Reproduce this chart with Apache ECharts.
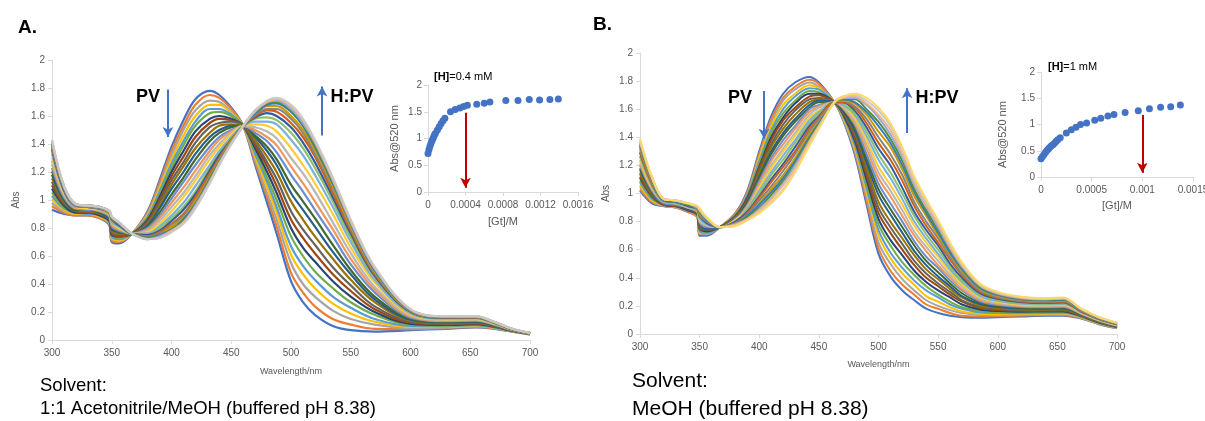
<!DOCTYPE html>
<html>
<head>
<meta charset="utf-8">
<script src="https://cdn.jsdelivr.net/npm/echarts/dist/echarts.min.js"></script>
<style>
  html, body { margin: 0; padding: 0; background: #ffffff; }
  #chart { width: 1205px; height: 421px; }
</style>
</head>
<body>
<div id="chart"></div>
<script>
// ---- Panel A: 1:1 acetonitrile/MeOH titration spectra ----
const wavelengthsA = [300, 310, 320, 330, 340, 348, 350, 356, 367, 380, 390, 400, 410, 420, 432, 440, 450, 460, 470, 480, 488, 500, 510, 520, 535, 550, 570, 600, 630, 655, 670, 685, 700];
// one row per wavelength, one column per titration step (first = PV, last = H:PV)
const absorbanceA = [
  [0.93,0.955,0.98,1.005,1.03,1.055,1.08,1.105,1.13,1.155,1.18,1.205,1.23,1.255,1.28,1.305,1.33,1.35,1.365,1.38,1.39,1.40,1.41,1.415,1.42,1.425,1.43],
  [0.90,0.91,0.92,0.93,0.94,0.95,0.96,0.97,0.98,0.99,1.00,1.01,1.02,1.03,1.04,1.05,1.06,1.07,1.07,1.08,1.08,1.09,1.09,1.09,1.10,1.10,1.10],
  [0.89,0.89,0.90,0.90,0.91,0.91,0.91,0.92,0.92,0.93,0.93,0.93,0.94,0.94,0.95,0.95,0.95,0.96,0.96,0.96,0.96,0.97,0.97,0.97,0.97,0.97,0.97],
  [0.89,0.89,0.90,0.90,0.90,0.91,0.91,0.91,0.92,0.92,0.93,0.93,0.93,0.94,0.94,0.94,0.95,0.95,0.95,0.95,0.95,0.96,0.96,0.96,0.96,0.96,0.96],
  [0.87,0.87,0.88,0.88,0.89,0.89,0.89,0.90,0.90,0.91,0.91,0.91,0.92,0.92,0.93,0.93,0.93,0.94,0.94,0.94,0.94,0.95,0.95,0.95,0.95,0.95,0.95],
  [0.82,0.83,0.83,0.84,0.84,0.85,0.85,0.86,0.86,0.87,0.87,0.88,0.88,0.89,0.89,0.90,0.90,0.90,0.91,0.91,0.91,0.91,0.92,0.92,0.92,0.92,0.92],
  [0.70,0.71,0.72,0.73,0.74,0.75,0.75,0.76,0.77,0.78,0.79,0.80,0.81,0.82,0.83,0.84,0.84,0.85,0.86,0.86,0.87,0.87,0.87,0.87,0.88,0.88,0.88],
  [0.69,0.70,0.71,0.71,0.72,0.73,0.74,0.74,0.75,0.76,0.77,0.77,0.78,0.79,0.80,0.80,0.81,0.82,0.82,0.83,0.83,0.83,0.83,0.84,0.84,0.84,0.84],
  [0.76,0.76,0.76,0.76,0.76,0.76,0.76,0.76,0.76,0.76,0.76,0.76,0.76,0.76,0.76,0.76,0.76,0.76,0.76,0.76,0.76,0.76,0.76,0.76,0.76,0.76,0.76],
  [0.92,0.91,0.90,0.89,0.88,0.87,0.86,0.85,0.84,0.83,0.82,0.81,0.80,0.79,0.78,0.77,0.76,0.75,0.75,0.74,0.74,0.73,0.73,0.73,0.72,0.72,0.72],
  [1.14,1.12,1.10,1.08,1.06,1.04,1.02,1.00,0.98,0.96,0.94,0.91,0.89,0.87,0.85,0.83,0.81,0.80,0.78,0.77,0.76,0.75,0.75,0.74,0.74,0.73,0.73],
  [1.38,1.35,1.32,1.29,1.26,1.23,1.20,1.17,1.14,1.11,1.08,1.04,1.01,0.98,0.95,0.92,0.89,0.87,0.85,0.83,0.82,0.81,0.79,0.79,0.78,0.78,0.77],
  [1.57,1.53,1.50,1.46,1.42,1.39,1.35,1.31,1.27,1.24,1.20,1.16,1.13,1.09,1.05,1.02,0.98,0.95,0.93,0.90,0.89,0.87,0.86,0.85,0.84,0.84,0.83],
  [1.72,1.68,1.64,1.60,1.56,1.53,1.49,1.45,1.41,1.37,1.33,1.29,1.25,1.21,1.17,1.14,1.10,1.06,1.04,1.02,1.00,0.99,0.97,0.96,0.96,0.95,0.94],
  [1.78,1.75,1.71,1.68,1.65,1.62,1.58,1.55,1.52,1.48,1.45,1.42,1.38,1.35,1.32,1.29,1.25,1.23,1.21,1.19,1.17,1.16,1.15,1.14,1.13,1.13,1.12],
  [1.75,1.73,1.70,1.68,1.65,1.63,1.60,1.58,1.55,1.53,1.50,1.48,1.45,1.43,1.40,1.38,1.35,1.33,1.32,1.30,1.29,1.28,1.27,1.27,1.26,1.26,1.25],
  [1.66,1.65,1.63,1.62,1.61,1.60,1.58,1.57,1.56,1.54,1.53,1.52,1.50,1.49,1.48,1.47,1.45,1.44,1.43,1.43,1.42,1.42,1.41,1.41,1.41,1.40,1.40],
  [1.53,1.53,1.53,1.53,1.53,1.53,1.53,1.53,1.53,1.53,1.53,1.53,1.53,1.53,1.53,1.53,1.53,1.53,1.53,1.53,1.53,1.53,1.53,1.53,1.53,1.53,1.53],
  [1.25,1.27,1.29,1.31,1.33,1.35,1.37,1.39,1.41,1.43,1.45,1.46,1.48,1.50,1.52,1.54,1.56,1.58,1.59,1.60,1.61,1.62,1.62,1.63,1.63,1.64,1.64],
  [0.98,1.02,1.05,1.09,1.13,1.16,1.20,1.24,1.27,1.31,1.35,1.38,1.42,1.45,1.49,1.53,1.56,1.59,1.62,1.64,1.65,1.67,1.68,1.69,1.70,1.70,1.71],
  [0.76,0.81,0.86,0.91,0.95,1.00,1.05,1.10,1.15,1.20,1.25,1.29,1.34,1.39,1.44,1.49,1.54,1.57,1.60,1.63,1.65,1.67,1.69,1.70,1.71,1.72,1.73],
  [0.42,0.48,0.55,0.61,0.67,0.74,0.80,0.86,0.92,0.99,1.05,1.11,1.18,1.24,1.30,1.37,1.43,1.48,1.52,1.55,1.58,1.60,1.63,1.64,1.65,1.67,1.68],
  [0.27,0.34,0.40,0.47,0.53,0.60,0.66,0.73,0.79,0.86,0.93,0.99,1.06,1.12,1.19,1.25,1.32,1.37,1.41,1.45,1.48,1.50,1.53,1.54,1.55,1.57,1.58],
  [0.18,0.24,0.31,0.37,0.43,0.49,0.56,0.62,0.68,0.74,0.81,0.87,0.93,0.99,1.06,1.12,1.18,1.23,1.27,1.31,1.33,1.36,1.38,1.39,1.41,1.42,1.43],
  [0.10,0.15,0.21,0.26,0.31,0.37,0.42,0.47,0.52,0.58,0.63,0.68,0.74,0.79,0.84,0.90,0.95,0.99,1.02,1.05,1.08,1.10,1.12,1.13,1.14,1.15,1.16],
  [0.07,0.11,0.15,0.19,0.23,0.27,0.31,0.35,0.39,0.43,0.47,0.50,0.54,0.58,0.62,0.66,0.70,0.73,0.76,0.78,0.80,0.81,0.83,0.84,0.84,0.85,0.86],
  [0.06,0.08,0.11,0.13,0.15,0.18,0.20,0.22,0.24,0.27,0.29,0.31,0.34,0.36,0.38,0.41,0.43,0.45,0.46,0.47,0.48,0.49,0.50,0.51,0.51,0.52,0.52],
  [0.07,0.078,0.085,0.093,0.10,0.108,0.115,0.123,0.13,0.138,0.145,0.153,0.16,0.168,0.175,0.183,0.19,0.196,0.201,0.205,0.208,0.211,0.214,0.216,0.217,0.219,0.22],
  [0.08,0.085,0.089,0.094,0.098,0.103,0.107,0.112,0.116,0.121,0.125,0.13,0.134,0.139,0.143,0.148,0.152,0.156,0.158,0.161,0.163,0.165,0.166,0.167,0.168,0.169,0.17],
  [0.09,0.094,0.098,0.102,0.106,0.11,0.114,0.118,0.122,0.126,0.13,0.134,0.138,0.142,0.146,0.15,0.154,0.157,0.16,0.162,0.164,0.165,0.167,0.168,0.168,0.169,0.17],
  [0.08,0.083,0.085,0.088,0.09,0.093,0.095,0.098,0.10,0.103,0.105,0.108,0.11,0.113,0.115,0.118,0.12,0.122,0.124,0.125,0.126,0.127,0.128,0.129,0.129,0.13,0.13],
  [0.06,0.061,0.062,0.063,0.064,0.065,0.066,0.067,0.068,0.069,0.07,0.071,0.072,0.073,0.074,0.075,0.076,0.077,0.077,0.078,0.078,0.079,0.079,0.079,0.08,0.08,0.08],
  [0.04,0.04,0.041,0.042,0.042,0.043,0.043,0.044,0.044,0.045,0.045,0.046,0.046,0.047,0.047,0.048,0.048,0.048,0.049,0.049,0.049,0.049,0.05,0.05,0.05,0.05,0.05]
];

// Panel A inset: absorbance at 520 nm against guest concentration
const guestA = [0, 0.00001, 0.00002, 0.00003, 0.00004, 0.00005, 0.00006, 0.00007, 0.00008, 0.0001, 0.00012, 0.00014, 0.00016, 0.00018, 0.00024, 0.00029, 0.00034, 0.00038, 0.00042, 0.00052, 0.0006, 0.00066, 0.00083, 0.00096, 0.00108, 0.00119, 0.0013, 0.00139];
const abs520A = [0.72, 0.79, 0.85, 0.90, 0.95, 0.99, 1.03, 1.07, 1.10, 1.16, 1.22, 1.28, 1.33, 1.38, 1.50, 1.54, 1.57, 1.60, 1.62, 1.64, 1.66, 1.68, 1.71, 1.71, 1.73, 1.72, 1.73, 1.74];

// ---- Panel B: MeOH titration spectra ----
const wavelengthsB = [300, 310, 320, 330, 340, 348, 350, 356, 367, 380, 390, 400, 410, 420, 430, 442, 450, 463, 470, 480, 490, 500, 510, 520, 530, 540, 550, 560, 570, 585, 600, 620, 640, 655, 670, 685, 700];
const absorbanceB = [
  [1.02,1.03,1.05,1.06,1.08,1.09,1.11,1.12,1.14,1.15,1.17,1.18,1.20,1.21,1.23,1.24,1.26,1.27,1.29,1.30,1.32,1.33,1.34,1.35,1.36,1.37,1.38,1.39],
  [0.93,0.94,0.95,0.95,0.96,0.97,0.98,0.98,0.99,1.00,1.01,1.01,1.02,1.03,1.04,1.04,1.05,1.06,1.07,1.07,1.08,1.09,1.10,1.10,1.11,1.11,1.12,1.12],
  [0.91,0.91,0.91,0.92,0.92,0.92,0.92,0.92,0.93,0.93,0.93,0.93,0.93,0.94,0.94,0.94,0.94,0.94,0.95,0.95,0.95,0.95,0.95,0.96,0.96,0.96,0.96,0.96],
  [0.90,0.90,0.90,0.91,0.91,0.91,0.91,0.91,0.92,0.92,0.92,0.92,0.92,0.93,0.93,0.93,0.93,0.93,0.94,0.94,0.94,0.94,0.94,0.95,0.95,0.95,0.95,0.95],
  [0.87,0.87,0.88,0.88,0.88,0.88,0.88,0.89,0.89,0.89,0.89,0.90,0.90,0.90,0.90,0.91,0.91,0.91,0.91,0.92,0.92,0.92,0.92,0.92,0.93,0.93,0.93,0.93],
  [0.83,0.83,0.84,0.84,0.84,0.85,0.85,0.85,0.86,0.86,0.86,0.87,0.87,0.87,0.88,0.88,0.88,0.88,0.89,0.89,0.89,0.90,0.90,0.90,0.90,0.91,0.91,0.91],
  [0.70,0.71,0.72,0.72,0.73,0.74,0.75,0.75,0.76,0.77,0.78,0.78,0.79,0.80,0.81,0.81,0.82,0.83,0.84,0.84,0.85,0.86,0.87,0.87,0.88,0.88,0.89,0.89],
  [0.70,0.71,0.71,0.72,0.72,0.73,0.73,0.74,0.74,0.75,0.75,0.76,0.76,0.77,0.77,0.78,0.78,0.79,0.79,0.80,0.80,0.81,0.81,0.82,0.82,0.82,0.83,0.83],
  [0.76,0.76,0.76,0.76,0.76,0.76,0.76,0.76,0.76,0.76,0.76,0.76,0.76,0.76,0.76,0.76,0.76,0.76,0.76,0.76,0.76,0.76,0.76,0.76,0.76,0.76,0.76,0.76],
  [0.86,0.86,0.85,0.85,0.85,0.84,0.84,0.84,0.83,0.83,0.82,0.82,0.82,0.81,0.81,0.81,0.80,0.80,0.80,0.79,0.79,0.78,0.78,0.78,0.78,0.78,0.77,0.77],
  [1.02,1.01,1.00,0.99,0.99,0.98,0.97,0.96,0.95,0.94,0.94,0.93,0.92,0.91,0.90,0.89,0.89,0.88,0.87,0.86,0.85,0.84,0.84,0.83,0.82,0.82,0.81,0.81],
  [1.30,1.28,1.26,1.25,1.23,1.21,1.19,1.18,1.16,1.14,1.12,1.11,1.09,1.07,1.05,1.04,1.02,1.00,0.98,0.97,0.95,0.93,0.92,0.90,0.89,0.88,0.87,0.86],
  [1.55,1.53,1.50,1.48,1.45,1.43,1.40,1.38,1.35,1.33,1.30,1.28,1.25,1.23,1.20,1.18,1.15,1.13,1.10,1.08,1.05,1.03,1.01,0.99,0.97,0.96,0.94,0.93],
  [1.71,1.68,1.66,1.63,1.60,1.57,1.54,1.52,1.49,1.46,1.43,1.41,1.38,1.35,1.32,1.30,1.27,1.24,1.21,1.19,1.16,1.13,1.11,1.09,1.07,1.06,1.03,1.02],
  [1.79,1.76,1.74,1.71,1.69,1.66,1.64,1.61,1.59,1.56,1.53,1.51,1.48,1.46,1.43,1.41,1.38,1.36,1.33,1.30,1.28,1.25,1.23,1.21,1.20,1.18,1.16,1.15],
  [1.83,1.81,1.79,1.77,1.75,1.73,1.71,1.69,1.67,1.65,1.63,1.61,1.60,1.58,1.56,1.54,1.52,1.50,1.48,1.46,1.44,1.42,1.40,1.39,1.37,1.37,1.35,1.34],
  [1.79,1.78,1.76,1.75,1.74,1.72,1.71,1.70,1.68,1.67,1.66,1.65,1.63,1.62,1.61,1.59,1.58,1.57,1.55,1.54,1.53,1.51,1.50,1.49,1.48,1.48,1.47,1.46],
  [1.65,1.65,1.65,1.65,1.65,1.65,1.65,1.65,1.65,1.65,1.65,1.65,1.65,1.65,1.65,1.65,1.65,1.65,1.65,1.65,1.65,1.65,1.65,1.65,1.65,1.65,1.65,1.65],
  [1.53,1.54,1.54,1.55,1.56,1.56,1.57,1.58,1.58,1.59,1.59,1.60,1.61,1.61,1.62,1.63,1.63,1.64,1.65,1.65,1.66,1.66,1.67,1.67,1.68,1.68,1.69,1.69],
  [1.28,1.30,1.31,1.33,1.35,1.37,1.38,1.40,1.42,1.44,1.45,1.47,1.49,1.50,1.52,1.54,1.56,1.57,1.59,1.61,1.62,1.64,1.65,1.67,1.68,1.69,1.70,1.71],
  [0.92,0.95,0.98,1.01,1.04,1.07,1.10,1.13,1.16,1.19,1.22,1.25,1.28,1.32,1.35,1.38,1.41,1.44,1.47,1.50,1.53,1.56,1.58,1.60,1.63,1.64,1.66,1.68],
  [0.57,0.61,0.65,0.70,0.74,0.78,0.82,0.86,0.90,0.94,0.99,1.03,1.07,1.11,1.15,1.19,1.24,1.28,1.32,1.36,1.40,1.44,1.48,1.51,1.54,1.56,1.59,1.61],
  [0.41,0.45,0.50,0.54,0.58,0.63,0.67,0.72,0.76,0.80,0.85,0.89,0.93,0.98,1.02,1.06,1.11,1.15,1.20,1.24,1.28,1.33,1.36,1.39,1.42,1.45,1.48,1.50],
  [0.31,0.35,0.39,0.43,0.47,0.51,0.56,0.60,0.64,0.68,0.72,0.76,0.80,0.84,0.88,0.92,0.96,1.00,1.04,1.09,1.13,1.17,1.20,1.23,1.26,1.28,1.31,1.33],
  [0.24,0.28,0.31,0.35,0.38,0.42,0.45,0.49,0.52,0.56,0.59,0.63,0.66,0.70,0.73,0.77,0.80,0.84,0.87,0.91,0.94,0.98,1.01,1.03,1.06,1.08,1.10,1.12],
  [0.18,0.21,0.24,0.27,0.31,0.34,0.37,0.40,0.43,0.46,0.49,0.52,0.55,0.59,0.62,0.65,0.68,0.71,0.74,0.77,0.80,0.84,0.86,0.88,0.91,0.92,0.94,0.96],
  [0.15,0.18,0.20,0.23,0.26,0.28,0.31,0.34,0.36,0.39,0.41,0.44,0.47,0.49,0.52,0.55,0.57,0.60,0.63,0.65,0.68,0.70,0.72,0.74,0.76,0.78,0.80,0.81],
  [0.13,0.15,0.17,0.19,0.21,0.23,0.26,0.28,0.30,0.32,0.34,0.36,0.38,0.40,0.42,0.44,0.46,0.48,0.50,0.53,0.55,0.57,0.58,0.60,0.61,0.62,0.64,0.65],
  [0.12,0.13,0.15,0.16,0.18,0.19,0.21,0.23,0.24,0.26,0.27,0.29,0.31,0.32,0.34,0.35,0.37,0.38,0.40,0.42,0.43,0.45,0.46,0.47,0.48,0.49,0.50,0.51],
  [0.115,0.125,0.135,0.144,0.154,0.164,0.174,0.184,0.193,0.203,0.213,0.223,0.233,0.242,0.252,0.262,0.272,0.282,0.291,0.301,0.311,0.321,0.328,0.336,0.343,0.348,0.355,0.36],
  [0.12,0.127,0.134,0.141,0.149,0.156,0.163,0.17,0.178,0.185,0.192,0.199,0.206,0.214,0.221,0.228,0.235,0.242,0.25,0.257,0.264,0.271,0.277,0.282,0.287,0.291,0.296,0.30],
  [0.125,0.131,0.136,0.142,0.147,0.153,0.159,0.164,0.17,0.175,0.181,0.187,0.192,0.198,0.203,0.209,0.215,0.22,0.226,0.231,0.237,0.243,0.247,0.251,0.255,0.258,0.262,0.265],
  [0.13,0.135,0.14,0.145,0.15,0.155,0.16,0.165,0.17,0.175,0.18,0.185,0.19,0.195,0.20,0.205,0.21,0.215,0.22,0.225,0.23,0.235,0.239,0.243,0.246,0.249,0.253,0.255],
  [0.13,0.135,0.14,0.146,0.151,0.156,0.161,0.166,0.172,0.177,0.182,0.187,0.192,0.198,0.203,0.208,0.213,0.218,0.224,0.229,0.234,0.239,0.243,0.247,0.251,0.254,0.257,0.26],
  [0.11,0.113,0.116,0.118,0.121,0.124,0.127,0.13,0.132,0.135,0.138,0.141,0.144,0.146,0.149,0.152,0.155,0.158,0.16,0.163,0.166,0.169,0.171,0.173,0.175,0.177,0.179,0.18],
  [0.07,0.072,0.074,0.076,0.078,0.08,0.082,0.084,0.086,0.088,0.09,0.092,0.094,0.096,0.098,0.10,0.102,0.104,0.106,0.108,0.11,0.112,0.114,0.115,0.117,0.118,0.119,0.12],
  [0.04,0.042,0.043,0.045,0.046,0.048,0.05,0.051,0.053,0.054,0.056,0.058,0.059,0.061,0.062,0.064,0.066,0.067,0.069,0.07,0.072,0.074,0.075,0.076,0.077,0.078,0.079,0.08]
];

// Panel B inset
const guestB = [0, 0.000015, 0.00003, 0.000045, 0.00006, 0.000075, 0.00009, 0.000105, 0.00012, 0.000135, 0.00015, 0.000165, 0.00019, 0.00025, 0.0003, 0.000345, 0.00039, 0.00045, 0.00053, 0.00059, 0.00066, 0.00072, 0.00083, 0.00096, 0.00107, 0.00118, 0.00128, 0.001375];
const abs520B = [0.35, 0.39, 0.43, 0.47, 0.51, 0.54, 0.57, 0.60, 0.62, 0.65, 0.68, 0.71, 0.75, 0.84, 0.90, 0.95, 1.00, 1.03, 1.08, 1.12, 1.16, 1.19, 1.23, 1.26, 1.30, 1.33, 1.34, 1.37];

// Office-style series colour cycle
const stepColors = ['#4472C4','#ED7D31','#A5A5A5','#FFC000','#5B9BD5','#70AD47','#264478','#9E480E','#636363','#997300','#255E91','#43682B','#698ED0','#F1975A','#B7B7B7','#FFCD33','#7CAFDD','#8CC168','#335AA1','#D26012','#848484','#CC9A00','#327DC2','#5A8A39','#8FAADC','#F4B183','#C9C9C9','#FFD966'];

const FONT = '"Liberation Sans", Arial, sans-serif';
const AXIS = '#D9D9D9';
const LABEL = '#595959';

function spectraSeries(wl, rows, axisIndex, width, arrows) {
  const steps = rows[0].length;
  const list = [];
  for (let k = 0; k < steps; k++) {
    const s = {
      type: 'line',
      xAxisIndex: axisIndex, yAxisIndex: axisIndex,
      data: wl.map((w, i) => [w, rows[i][k]]),
      smooth: 0.35,
      showSymbol: false, symbol: 'none',
      silent: true,
      lineStyle: { width: width, color: stepColors[k % stepColors.length] },
      itemStyle: { color: stepColors[k % stepColors.length] }
    };
    if (k === 0) s.markLine = arrows;
    list.push(s);
  }
  return list;
}

function arrowLines(color, pairs) {
  return {
    silent: true, animation: false,
    symbol: ['none', 'arrow'], symbolSize: [8, 10],
    lineStyle: { color: color, width: 2, type: 'solid', opacity: 1 },
    label: { show: false },
    emphasis: { disabled: true },
    data: pairs.map(p => [{ coord: p[0] }, { coord: p[1] }])
  };
}

function waveAxis(grid, gap) {
  return {
    type: 'value', gridIndex: grid, min: 300, max: 700, interval: 50,
    name: 'Wavelength/nm', nameLocation: 'middle', nameGap: gap,
    nameTextStyle: { fontFamily: FONT, fontSize: 9, color: LABEL },
    axisLine: { show: true, lineStyle: { color: AXIS, width: 1 } },
    axisTick: { show: true, length: 4, lineStyle: { color: AXIS } },
    axisLabel: { fontFamily: FONT, fontSize: 10, color: LABEL, margin: 8 },
    splitLine: { show: false }
  };
}
function absAxis(grid, gap) {
  return {
    type: 'value', gridIndex: grid, min: 0, max: 2, interval: 0.2,
    name: 'Abs', nameLocation: 'middle', nameGap: gap,
    nameTextStyle: { fontFamily: FONT, fontSize: 10, color: LABEL },
    axisLine: { show: true, lineStyle: { color: AXIS, width: 1 } },
    axisTick: { show: true, length: 4, lineStyle: { color: AXIS } },
    axisLabel: { fontFamily: FONT, fontSize: 10, color: LABEL, margin: 7 },
    splitLine: { show: false }
  };
}
function guestAxis(grid, max, step, gap) {
  return {
    type: 'value', gridIndex: grid, min: 0, max: max, interval: step,
    name: '[Gt]/M', nameLocation: 'middle', nameGap: gap,
    nameTextStyle: { fontFamily: FONT, fontSize: 11, color: LABEL },
    axisLine: { show: true, lineStyle: { color: AXIS, width: 1 } },
    axisTick: { show: true, length: 4, lineStyle: { color: AXIS } },
    axisLabel: { fontFamily: FONT, fontSize: 10, color: LABEL, margin: 8 },
    splitLine: { show: false }
  };
}
function insetAbsAxis(grid, gap, pad) {
  return {
    type: 'value', gridIndex: grid, min: 0, max: 2, interval: 0.5,
    name: 'Abs@520 nm', nameLocation: 'middle', nameGap: gap,
    nameTextStyle: { fontFamily: FONT, fontSize: 11, color: LABEL, padding: pad },
    axisLine: { show: true, lineStyle: { color: AXIS, width: 1 } },
    axisTick: { show: true, length: 4, lineStyle: { color: AXIS } },
    axisLabel: { fontFamily: FONT, fontSize: 10, color: LABEL, margin: 6 },
    splitLine: { show: false }
  };
}

function txt(x, y, text, size, weight, align) {
  return {
    type: 'text', x: x, y: y, silent: true,
    style: {
      text: text, fill: '#000000',
      font: (weight || 'normal') + ' ' + size + 'px ' + FONT,
      align: align || 'left', verticalAlign: 'middle',
      textAlign: align || 'left', textVerticalAlign: 'middle'
    }
  };
}
function richTxt(x, y, text) {
  return {
    type: 'text', x: x, y: y, silent: true,
    style: {
      text: text, fill: '#000000', fontFamily: FONT, fontSize: 11,
      align: 'left', verticalAlign: 'middle', textAlign: 'left', textVerticalAlign: 'middle',
      rich: { b: { fontWeight: 'bold', fontFamily: FONT, fontSize: 11, fill: '#000000' } }
    }
  };
}

function titrationPoints(gt, abs, xi) {
  return {
    type: 'scatter', xAxisIndex: xi, yAxisIndex: xi,
    data: gt.map((g, i) => [g, abs[i]]),
    symbol: 'circle', symbolSize: 7, silent: true,
    itemStyle: { color: '#4472C4', opacity: 1 }
  };
}

const chart = echarts.init(document.getElementById('chart'), null, { renderer: 'canvas' });

const insetA = titrationPoints(guestA, abs520A, 1);
insetA.markLine = arrowLines('#C00000', [[[0.0004, 1.48], [0.0004, 0.08]]]);
const insetB = titrationPoints(guestB, abs520B, 3);
insetB.markLine = arrowLines('#C00000', [[[0.001, 1.18], [0.001, 0.08]]]);

const series = []
  .concat(spectraSeries(wavelengthsA, absorbanceA, 0, 2.2,
    arrowLines('#4472C4', [[[397, 1.79], [397, 1.45]], [[526, 1.46], [526, 1.81]]])))
  .concat([insetA])
  .concat(spectraSeries(wavelengthsB, absorbanceB, 2, 2.0,
    arrowLines('#4472C4', [[[404, 1.73], [404, 1.39]], [[524, 1.43], [524, 1.75]]])))
  .concat([insetB]);

chart.setOption({
  animation: false,
  backgroundColor: '#ffffff',
  grid: [
    { left: 52, top: 60, width: 478, height: 280, containLabel: false, outerBoundsMode: 'none' },
    { left: 428, top: 85, width: 150, height: 107, containLabel: false, outerBoundsMode: 'none' },
    { left: 640, top: 53, width: 477, height: 281, containLabel: false, outerBoundsMode: 'none' },
    { left: 1041, top: 72, width: 152, height: 105, containLabel: false, outerBoundsMode: 'none' }
  ],
  xAxis: [
    waveAxis(0, 27),
    guestAxis(1, 0.0016, 0.0004, 24),
    waveAxis(2, 26),
    guestAxis(3, 0.0015, 0.0005, 23)
  ],
  yAxis: [
    absAxis(0, 31),
    insetAbsAxis(1, 28, [0, 0, 0, 0]),
    absAxis(2, 29),
    insetAbsAxis(3, 33, [0, 20, 0, 0])
  ],
  series: series,
  graphic: [
    txt(18, 28, 'A.', 19, 'bold'),
    txt(593, 25, 'B.', 19, 'bold'),
    txt(148, 97, 'PV', 18, 'bold', 'center'),
    txt(352, 97, 'H:PV', 18, 'bold', 'center'),
    txt(740, 98, 'PV', 18, 'bold', 'center'),
    txt(937, 98, 'H:PV', 18, 'bold', 'center'),
    richTxt(434, 77, '{b|[H]}=0.4 mM'),
    richTxt(1048, 67, '{b|[H]}=1 mM'),
    txt(40, 386, 'Solvent:', 18.5),
    txt(40, 409, '1:1 Acetonitrile/MeOH (buffered pH 8.38)', 18.5),
    txt(632, 381, 'Solvent:', 21),
    txt(632, 409, 'MeOH (buffered pH 8.38)', 21)
  ]
});
</script>
</body>
</html>
